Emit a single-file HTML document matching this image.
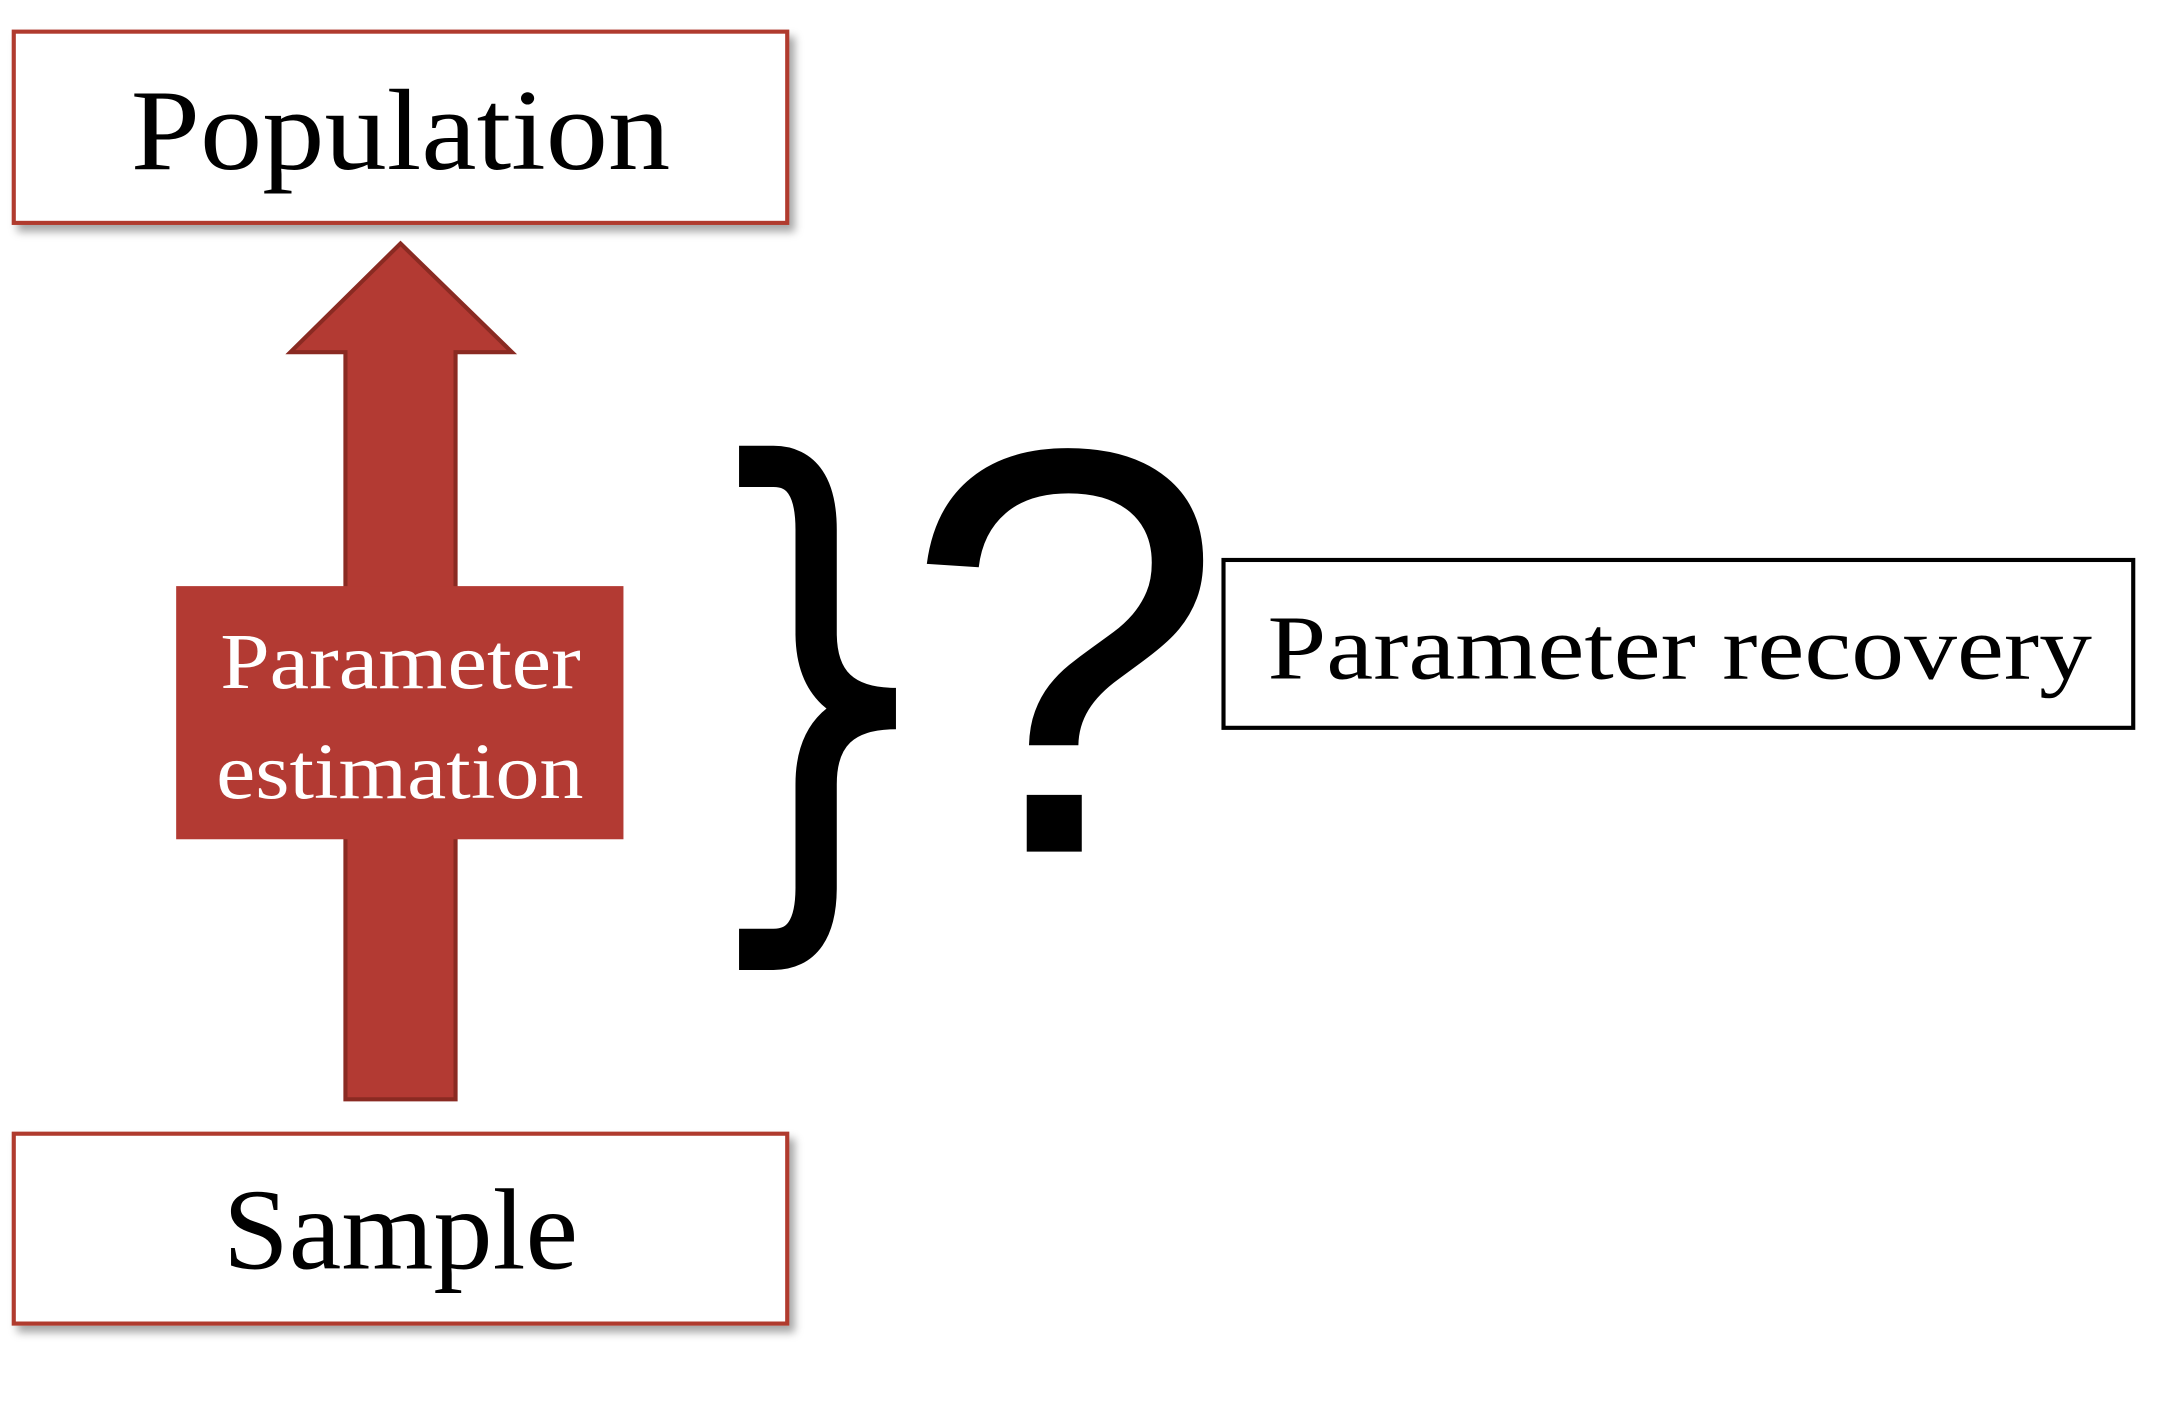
<!DOCTYPE html>
<html><head><style>html,body{margin:0;padding:0;background:#fff}svg{display:block}</style></head>
<body>
<svg width="2158" height="1413" viewBox="0 0 1568 1027" preserveAspectRatio="none" xmlns="http://www.w3.org/2000/svg">
<defs><filter id="sh" x="-5%" y="-10%" width="115%" height="130%"><feDropShadow dx="4" dy="5" stdDeviation="3" flood-color="#000" flood-opacity="0.35"/></filter></defs>
<rect x="10" y="23" width="562" height="139" fill="#fff" stroke="#b03a2e" stroke-width="3" filter="url(#sh)"/>
<text x="95" y="123" textLength="392" lengthAdjust="spacingAndGlyphs" font-family="Liberation Serif, serif" font-size="84" fill="#000">Population</text>
<rect x="10" y="824" width="562" height="138" fill="#fff" stroke="#b03a2e" stroke-width="3" filter="url(#sh)"/>
<text x="162" y="922" textLength="258" lengthAdjust="spacingAndGlyphs" font-family="Liberation Serif, serif" font-size="84" fill="#000">Sample</text>
<polygon points="291,177 372,256 331,256 331,799 251,799 251,256 211,256" fill="#b33a33" stroke="#8a2a22" stroke-width="3"/>
<rect x="128" y="426" width="325" height="184" fill="#b33a33"/>
<text x="160" y="500" textLength="262" lengthAdjust="spacingAndGlyphs" font-family="Liberation Serif, serif" font-size="58" fill="#fff">Parameter</text>
<text x="157" y="580" textLength="267" lengthAdjust="spacingAndGlyphs" font-family="Liberation Serif, serif" font-size="58" fill="#fff">estimation</text>
<path d="M537,339 H562 Q593,339 593,385 V460 Q593,515 651,515 Q593,515 593,570 V645 Q593,690 562,690 H537" fill="none" stroke="#000" stroke-width="30"/>
<text x="773" y="619" font-family="Liberation Sans, sans-serif" font-size="420" text-anchor="middle" fill="#000">?</text>
<rect x="889" y="407" width="661" height="122" fill="#fff" stroke="#000" stroke-width="3"/>
<text x="921" y="493" textLength="599" lengthAdjust="spacingAndGlyphs" font-family="Liberation Serif, serif" font-size="66" fill="#000">Parameter recovery</text>
</svg>
</body></html>
